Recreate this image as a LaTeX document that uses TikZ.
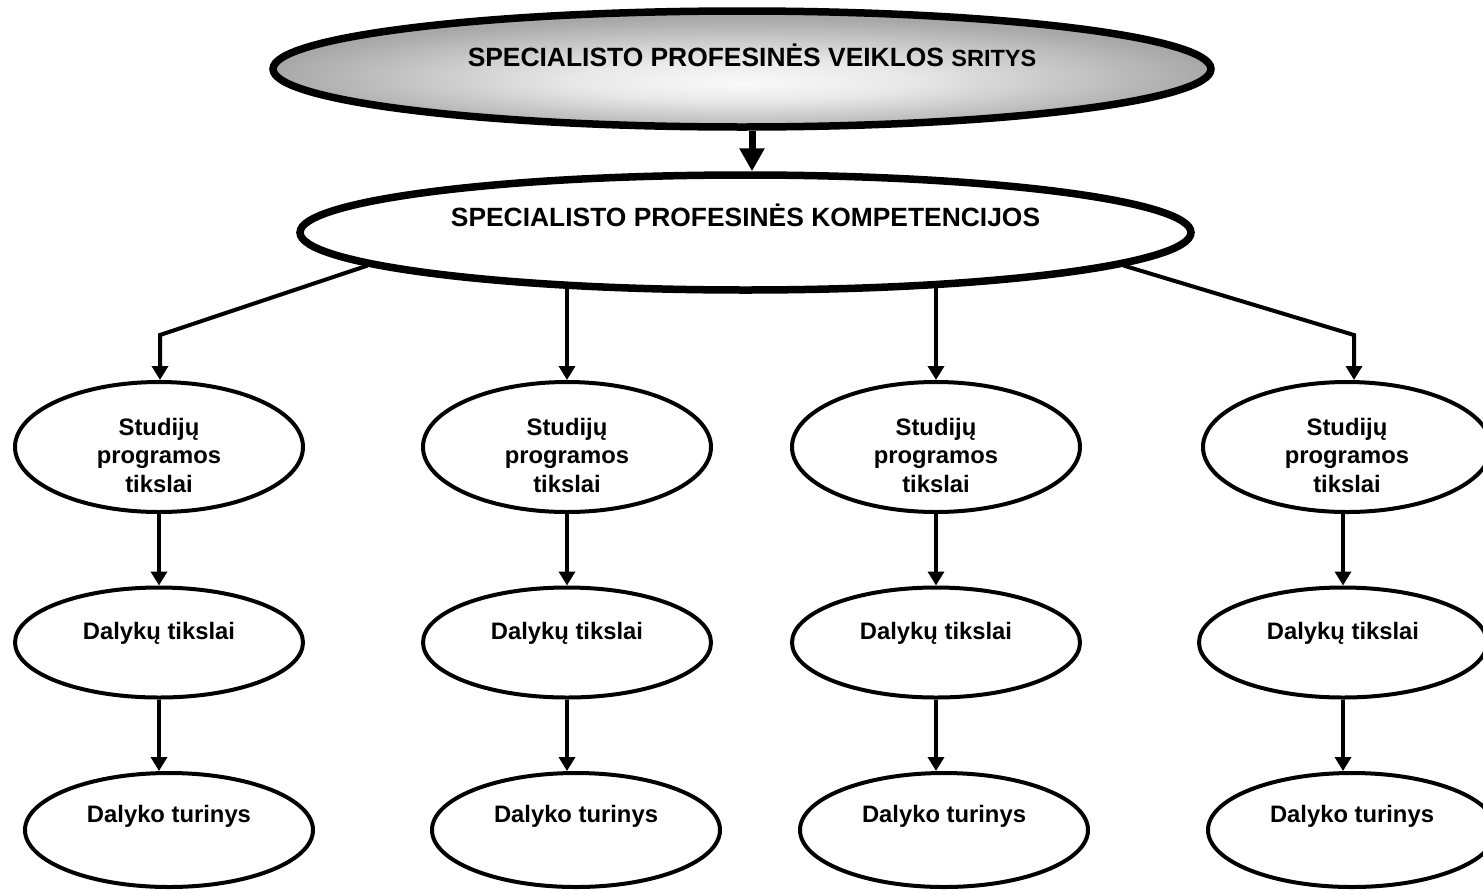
\documentclass[tikz,border=0pt]{standalone}
\usepackage{fontspec}
\setmainfont{Liberation Sans}
\usetikzlibrary{shapes.geometric,arrows.meta}
\pgfdeclareradialshading{topshade}{\pgfpoint{0bp}{-6bp}}{color(0bp)=(white!98!black); color(9bp)=(white!91!black); color(25bp)=(white!66!black); color(50bp)=(white!66!black)}
\begin{document}
\begin{tikzpicture}[x=0.5pt,y=-0.5pt,
  bigell/.style={ellipse,draw,line width=3.75pt,inner sep=0pt,font=\fontsize{13.2}{15}\selectfont\bfseries},
  smell/.style={ellipse,draw,line width=2pt,minimum width=144pt,inner sep=0pt,font=\fontsize{11.9}{14.25}\selectfont\bfseries},
  rowa/.style={smell,minimum height=65pt},
  rowb/.style={smell,minimum height=55pt,text height=8.45pt,text depth=11.5pt},
  rowc/.style={smell,minimum height=57pt,text height=8.45pt,text depth=16pt},
  conn/.style={line width=2pt},
  arr/.style={line width=2pt,-{Triangle[length=7pt,width=8pt]}},
  bigarr/.style={line width=3.5pt,-{Triangle[length=11.5pt,width=12pt]}}]
\useasboundingbox (0,0) rectangle (1483,889);
% top ellipses
\node[bigell,shade,shading=topshade,minimum width=469pt,minimum height=58pt,text height=9.45pt,text depth=12pt] (top) at (742,69)
  {\hspace*{10pt}SPECIALISTO PROFESINĖS VEIKLOS {\fontsize{11.75}{14}\selectfont SRITYS}};
\node[bigell,fill=white,minimum width=445.5pt,minimum height=57.5pt,text height=9.45pt,text depth=15.5pt] (comp) at (745.5,232.5)
  {SPECIALISTO PROFESINĖS KOMPETENCIJOS};
% row 1
\newcommand{\stp}{\raisebox{6pt}[0pt][0pt]{\begin{tabular}[t]{@{}c@{}}Studijų\\programos\\tikslai\end{tabular}}}
\node[rowa] (a1) at (159,447) {\stp};
\node[rowa] (a2) at (567,447) {\stp};
\node[rowa] (a3) at (936,447) {\stp};
\node[rowa] (a4) at (1347,447) {\stp};
% row 2
\node[rowb] (b1) at (159,642.5) {Dalykų tikslai};
\node[rowb] (b2) at (567,642.5) {Dalykų tikslai};
\node[rowb] (b3) at (936,642.5) {Dalykų tikslai};
\node[rowb] (b4) at (1343,642.5) {Dalykų tikslai};
% row 3
\node[rowc] (c1) at (169,830) {Dalyko turinys};
\node[rowc] (c2) at (576,830) {Dalyko turinys};
\node[rowc] (c3) at (944,830) {Dalyko turinys};
\node[rowc] (c4) at (1352,830) {Dalyko turinys};
% connectors
\coordinate (k1) at (160,335);
\coordinate (k4) at (1354,335);
\draw[bigarr] ([xshift=5pt]top.south) -- ([xshift=5pt]top.south |- comp.north);
\draw[arr] (comp.185.4) -- (k1) -- (k1 |- a1.north);
\draw[arr] (a2.north |- comp.196.4) -- (a2.north);
\draw[arr] (a3.north |- comp.-15.3) -- (a3.north);
\draw[arr] (comp.-5.4) -- (k4) -- (k4 |- a4.north);
\foreach \i in {1,2,3,4}{
  \draw[arr] (b\i.north |- a\i.south) -- (b\i.north);
  \draw[arr] (b\i.south) -- (b\i.south |- c\i.north);
}
\end{tikzpicture}
\end{document}
